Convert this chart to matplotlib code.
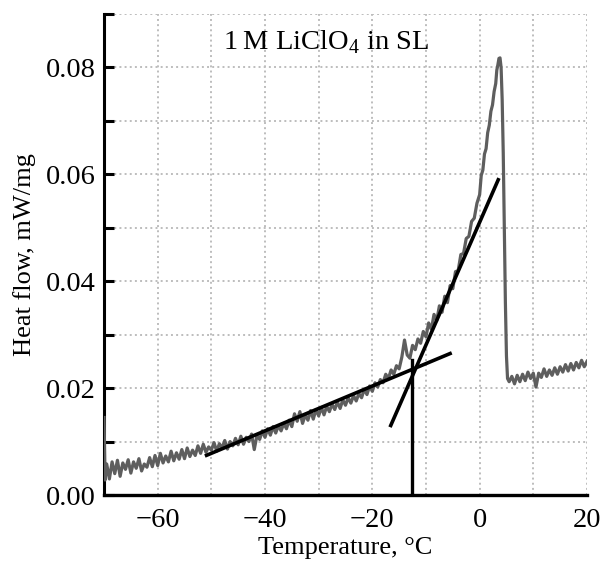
import matplotlib
matplotlib.use("Agg")
import matplotlib.pyplot as plt
from matplotlib.ticker import MultipleLocator, FormatStrFormatter

plt.rcParams['font.family'] = ['Liberation Serif', 'DejaVu Serif']
plt.rcParams['mathtext.fontset'] = 'custom'
plt.rcParams['mathtext.rm'] = 'Liberation Serif'

# DSC trace (temperature in degC, heat flow in mW/mg)
temp = [
    -70.0, -69.8, -69.5, -69.0, -68.5, -68.0, -67.5, -67.0, -66.5, -66.0, -65.5, -65.0,
    -64.5, -64.0, -63.5, -63.0, -62.5, -62.0, -61.5, -61.0, -60.5, -60.0,
    -59.5, -59.0, -58.5, -58.0, -57.5, -57.0, -56.5, -56.0, -55.5, -55.0,
    -54.5, -54.0, -53.5, -53.0, -52.5, -52.0, -51.5, -51.0, -50.5, -50.0,
    -49.5, -49.0, -48.5, -48.0, -47.5, -47.0, -46.5, -46.0, -45.5, -45.0,
    -44.5, -44.0, -43.5, -43.0, -42.5, -42.0, -41.5, -41.0, -40.5, -40.0,
    -39.5, -39.0, -38.5, -38.0, -37.5, -37.0, -36.5, -36.0, -35.5, -35.0,
    -34.5, -34.0, -33.5, -33.0, -32.5, -32.0, -31.5, -31.0, -30.5, -30.0,
    -29.5, -29.0, -28.5, -28.0, -27.5, -27.0, -26.5, -26.0, -25.5, -25.0,
    -24.5, -24.0, -23.5, -23.0, -22.5, -22.0, -21.5, -21.0, -20.5, -20.0,
    -19.5, -19.0, -18.5, -18.0, -17.5, -17.0, -16.5, -16.0, -15.5, -15.0,
    -14.5, -14.0, -13.5, -13.0, -12.5, -12.0, -11.5, -11.0, -10.5, -10.0,
    -9.5, -9.0, -8.5, -8.0, -7.5, -7.0, -6.5, -6.0, -5.5, -5.0,
    -4.5, -4.0, -3.5, -3.0, -2.5, -2.0, -1.5, -1.0, -0.5, 0.0,
    0.3, 0.6, 0.9, 1.2, 1.5, 1.8, 2.1, 2.4, 2.7, 3.0,
    3.2, 3.4, 3.6, 3.8, 4.0, 4.2, 4.4, 4.6, 4.8, 5.0, 5.2,
    5.5, 6.0, 6.5, 7.0, 7.5, 8.0, 8.5, 9.0, 9.5, 10.0,
    10.5, 11.0, 11.5, 12.0, 12.5, 13.0, 13.5, 14.0, 14.5, 15.0,
    15.5, 16.0, 16.5, 17.0, 17.5, 18.0, 18.5, 19.0, 19.5, 20.0,
]
heat_flow = [
    0.0145, 0.0028, 0.0058, 0.0030, 0.0062, 0.0040, 0.0065, 0.0035, 0.0060, 0.0048, 0.0066, 0.0041,
    0.0062, 0.0050, 0.0068, 0.0045, 0.0058, 0.0052, 0.0070, 0.0053, 0.0074, 0.0055,
    0.0078, 0.0060, 0.0073, 0.0062, 0.0082, 0.0064, 0.0079, 0.0067, 0.0085, 0.0068,
    0.0088, 0.0072, 0.0084, 0.0074, 0.0092, 0.0078, 0.0095, 0.0080, 0.0090, 0.0084,
    0.0098, 0.0082, 0.0096, 0.0088, 0.0102, 0.0086, 0.0100, 0.0092, 0.0106, 0.0094,
    0.0110, 0.0095, 0.0108, 0.0100, 0.0114, 0.0085, 0.0112, 0.0104, 0.0120, 0.0108,
    0.0124, 0.0112, 0.0128, 0.0116, 0.0130, 0.0120, 0.0134, 0.0124, 0.0140, 0.0128,
    0.0152, 0.0138, 0.0156, 0.0134, 0.0150, 0.0140, 0.0158, 0.0142, 0.0160, 0.0148,
    0.0164, 0.0150, 0.0166, 0.0156, 0.0170, 0.0160, 0.0174, 0.0162, 0.0178, 0.0168,
    0.0182, 0.0172, 0.0186, 0.0176, 0.0190, 0.0182, 0.0198, 0.0188, 0.0204, 0.0194,
    0.0210, 0.0202, 0.0216, 0.0210, 0.0226, 0.0218, 0.0234, 0.0226, 0.0242, 0.0236,
    0.0258, 0.0290, 0.0262, 0.0256, 0.0280, 0.0272, 0.0292, 0.0284, 0.0306, 0.0296,
    0.0322, 0.0310, 0.0338, 0.0326, 0.0354, 0.0342, 0.0372, 0.0360, 0.0392, 0.0386,
    0.0418, 0.0420, 0.0450, 0.0452, 0.0480, 0.0484, 0.0512, 0.0518, 0.0546, 0.0562,
    0.0598, 0.0608, 0.0638, 0.0648, 0.0678, 0.0692, 0.0718, 0.0730, 0.0755, 0.0770,
    0.0795, 0.0805, 0.0817, 0.0818, 0.0800, 0.0740, 0.0640, 0.0500, 0.0360, 0.0260, 0.0218,
    0.0212, 0.0222, 0.0208, 0.0224, 0.0212, 0.0226, 0.0214, 0.0230, 0.0218, 0.0228,
    0.0202, 0.0228, 0.0220, 0.0236, 0.0222, 0.0234, 0.0224, 0.0238, 0.0226, 0.0240,
    0.0230, 0.0244, 0.0232, 0.0246, 0.0234, 0.0248, 0.0238, 0.0252, 0.0240, 0.0250,
]

# tangent construction for the onset
baseline_x = [-51.2, -5.2]
baseline_y = [0.0073, 0.0266]
rise_x = [-16.7, 3.6]
rise_y = [0.0127, 0.0593]
onset_x = -12.6
onset_top = 0.0252

label = '1\u2009M LiClO$_4$ in SL'

fig = plt.figure(figsize=(6.02, 5.62), dpi=100)
ax = fig.add_axes([0.1728, 0.1192, 0.8022, 0.8558])

ax.plot(temp, heat_flow, color='#5e5e5e', lw=2.3, zorder=3)
ax.plot(baseline_x, baseline_y, color='black', lw=2.6, solid_capstyle='butt', zorder=4)
ax.plot(rise_x, rise_y, color='black', lw=2.6, solid_capstyle='butt', zorder=4)
ax.plot([onset_x, onset_x], [0, onset_top], color='black', lw=2.4, zorder=4)

ax.set_xlim(-70, 20)
ax.set_ylim(0, 0.09)
ax.xaxis.set_major_locator(MultipleLocator(20))
ax.xaxis.set_minor_locator(MultipleLocator(10))
ax.yaxis.set_major_locator(MultipleLocator(0.02))
ax.yaxis.set_minor_locator(MultipleLocator(0.01))
ax.yaxis.set_major_formatter(FormatStrFormatter('%.2f'))

ax.grid(True, which='both', color='#bdbdbd', linestyle=':', lw=1.4)
ax.set_axisbelow(True)

for s in ['top', 'right']:
    ax.spines[s].set_visible(False)
ax.spines['left'].set_linewidth(2.2)
ax.spines['bottom'].set_linewidth(2.4)

ax.tick_params(axis='y', which='both', direction='in', length=7, width=2.2, labelsize=20.5, pad=6)
ax.tick_params(axis='x', which='both', length=0, labelsize=20.5, pad=9)

ax.set_xlabel('Temperature, \u00b0C', fontsize=19, labelpad=3)
ax.set_ylabel('Heat flow, mW/mg', fontsize=19, labelpad=7)

ax.text(-28.6, 0.0847, label, fontsize=20.5, ha='center', va='center')

fig.savefig('out.png', dpi=100)
